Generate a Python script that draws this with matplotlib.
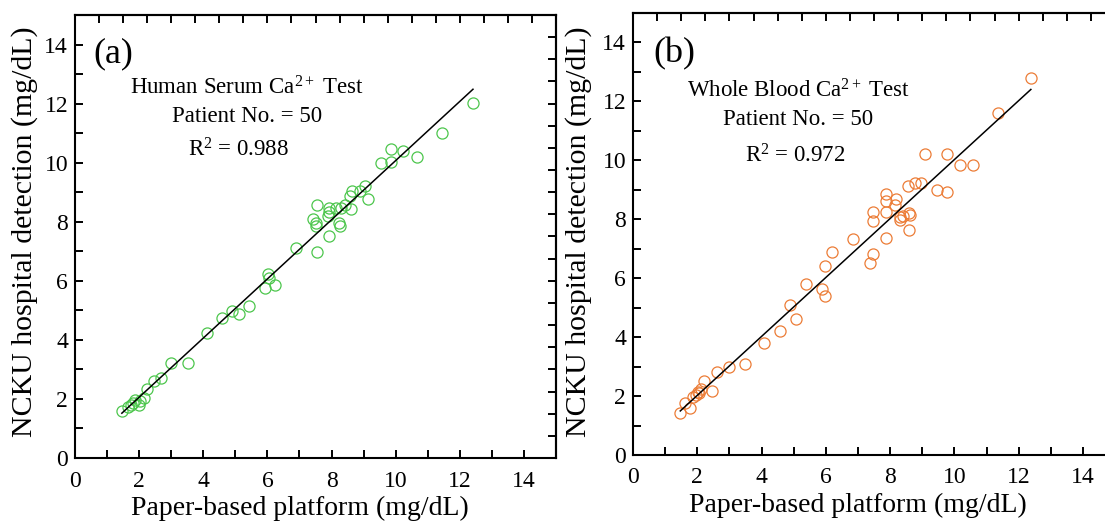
import numpy as np
import matplotlib
matplotlib.use('Agg')
import matplotlib.pyplot as plt
from matplotlib.ticker import MultipleLocator, NullFormatter

plt.rcParams['font.family'] = ['Liberation Serif', 'DejaVu Serif']
plt.rcParams['mathtext.fontset'] = 'custom'
plt.rcParams['mathtext.rm'] = 'Liberation Serif'
plt.rcParams['mathtext.it'] = 'Liberation Serif:italic'
plt.rcParams['mathtext.bf'] = 'Liberation Serif:bold'

# ---------------- data ----------------
serum_x = [1.46, 1.65, 1.75, 1.81, 1.87, 1.98, 2.02, 2.14, 2.25, 2.47,
           2.67, 3.00, 3.51, 4.12, 4.58, 4.89, 5.11, 5.41, 5.93, 6.01,
           6.04, 6.23, 6.90, 7.43, 7.55, 7.52, 7.50, 7.55, 7.93, 7.93,
           7.90, 7.93, 8.23, 8.25, 8.28, 8.41, 8.62, 8.59, 8.65, 8.90,
           9.04, 9.13, 9.53, 9.84, 9.85, 10.24, 10.65, 11.44, 12.41, 8.15]
serum_y = [1.58, 1.73, 1.80, 1.87, 1.98, 1.81, 1.93, 2.04, 2.34, 2.60,
           2.72, 3.23, 3.23, 4.24, 4.75, 4.98, 4.87, 5.15, 5.74, 6.22,
           6.11, 5.86, 7.10, 8.10, 8.58, 7.84, 7.95, 6.97, 7.50, 8.48,
           8.20, 8.32, 7.95, 7.84, 8.48, 8.58, 8.43, 8.88, 9.03, 9.03,
           9.20, 8.78, 10.00, 10.47, 10.01, 10.38, 10.18, 11.00, 12.02, 8.45]

blood_x = [1.47, 1.61, 1.78, 1.86, 1.95, 2.02, 2.10, 2.21, 2.46, 2.60,
           2.98, 3.48, 4.08, 4.57, 4.87, 5.07, 5.37, 5.89, 5.96, 5.96,
           6.19, 6.86, 7.36, 7.47, 7.47, 7.47, 7.88, 7.88, 7.88, 7.88,
           8.19, 8.16, 8.30, 8.32, 8.40, 8.58, 8.58, 8.55, 8.76, 8.96,
           9.07, 9.46, 9.77, 9.77, 10.17, 10.58, 11.37, 12.38, 2.05, 8.62]
blood_y = [1.42, 1.78, 1.58, 1.97, 2.05, 2.15, 2.25, 2.50, 2.18, 2.80,
           2.98, 3.10, 3.80, 4.20, 5.10, 4.60, 5.80, 5.63, 5.40, 6.42,
           6.89, 7.32, 6.52, 6.81, 7.94, 8.25, 7.37, 8.25, 8.62, 8.85,
           8.70, 8.47, 8.06, 7.99, 8.12, 8.21, 7.63, 9.12, 9.23, 9.23,
           10.20, 9.00, 8.92, 10.20, 9.83, 9.83, 11.59, 12.80, 2.10, 8.15]

panel_labels = ['(a)', '(b)']
titles = ['Human Serum Ca$^{2+}$ Test', 'Whole Blood Ca$^{2+}$ Test']
patient_text = ['Patient No. = 50', 'Patient No. = 50']
r2_text = ['R$^{2}$ = 0.988', 'R$^{2}$ = 0.972']
x_label = 'Paper-based platform (mg/dL)'
y_label = 'NCKU hospital detection (mg/dL)'
colors = ['#4cc64c', '#ec7c36']

fig = plt.figure(figsize=(11.05, 5.22), dpi=100)
positions = [[0.0679, 0.1226, 0.4353, 0.8487],
             [0.5729, 0.1284, 0.4362, 0.8467]]
text_pos = [
    dict(lab=(0.56, 13.38), t1=(5.34, 12.30), t2=(5.37, 11.39), t3=(5.09, 10.20)),
    dict(lab=(0.62, 13.32), t1=(5.14, 12.14), t2=(5.14, 11.19), t3=(5.05, 9.93)),
]
xlabel_coords = [(7 / 15, -0.085), (7 / 15, -0.086)]
ylabel_coords = [(-0.076, 0.51), (-0.085, 0.505)]
datasets = [(serum_x, serum_y), (blood_x, blood_y)]

for i, (xs, ys) in enumerate(datasets):
    ax = fig.add_axes(positions[i])
    xs = np.array(xs); ys = np.array(ys)
    ax.plot(xs, ys, 'o', mfc='none', mec=colors[i], ms=8, mew=0.9, zorder=2)
    k, b = np.polyfit(xs, ys, 1)
    xl = np.array([xs.min(), xs.max()])
    ax.plot(xl, k * xl + b, color='black', lw=1.1, zorder=3)

    ax.set_xlim(0, 15)
    ax.set_ylim(0, 15)
    ax.xaxis.set_major_locator(MultipleLocator(2))
    ax.xaxis.set_minor_locator(MultipleLocator(1))
    ax.yaxis.set_major_locator(MultipleLocator(2))
    ax.yaxis.set_minor_locator(MultipleLocator(1))
    ax.tick_params(which='both', direction='in', length=6, width=1.4,
                   top=False, right=False, labelsize=17)
    ax.tick_params(axis='x', which='both', pad=9)
    ax.tick_params(axis='y', which='both', pad=5)
    for s in ax.spines.values():
        s.set_linewidth(1.5)

    sx = ax.secondary_xaxis('top')
    sx.set_xticks(np.arange(0.75, 15, 0.75))
    sx.xaxis.set_major_formatter(NullFormatter())
    sx.tick_params(direction='in', length=6, width=1.4)
    sx.spines['top'].set_linewidth(1.5)
    sy = ax.secondary_yaxis('right')
    sy.set_yticks(np.arange(0.75, 15, 0.75))
    sy.yaxis.set_major_formatter(NullFormatter())
    sy.tick_params(direction='in', length=6, width=1.4)
    sy.spines['right'].set_linewidth(1.5)

    ax.set_xlabel(x_label, fontsize=20)
    ax.set_ylabel(y_label, fontsize=21.5)
    ax.xaxis.set_label_coords(*xlabel_coords[i])
    ax.yaxis.set_label_coords(*ylabel_coords[i])

    tp = text_pos[i]
    ax.text(*tp['lab'], panel_labels[i], fontsize=26, ha='left', va='baseline')
    ax.text(*tp['t1'], titles[i], fontsize=16.5, ha='center', va='baseline')
    ax.text(*tp['t2'], patient_text[i], fontsize=16.5, ha='center', va='baseline')
    ax.text(*tp['t3'], r2_text[i], fontsize=16.5, ha='center', va='baseline')

fig.savefig('out.png', dpi=100)
